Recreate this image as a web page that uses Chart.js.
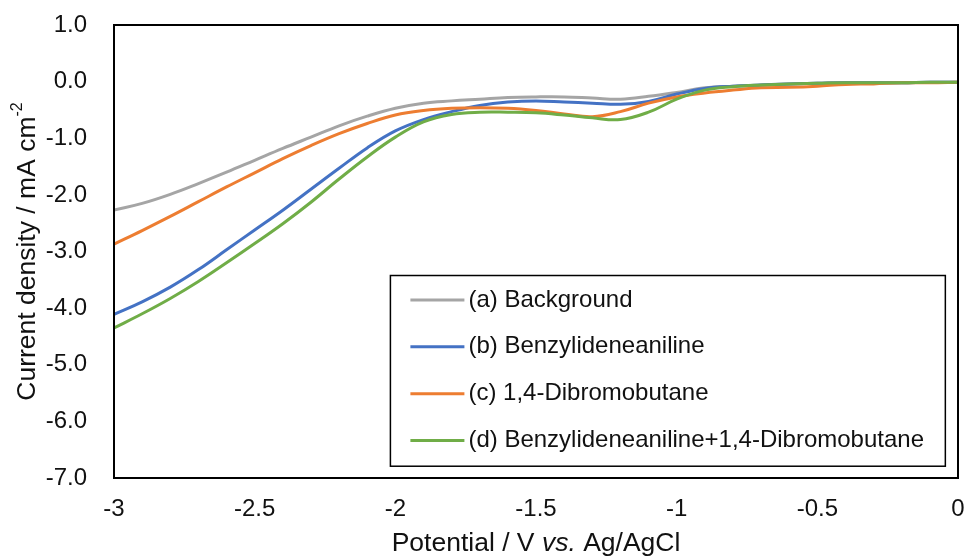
<!DOCTYPE html>
<html>
<head>
<meta charset="utf-8">
<script src="https://cdn.jsdelivr.net/npm/chart.js@4.4.1/dist/chart.umd.min.js"></script>
<style>
  html, body { margin: 0; padding: 0; background: #fff; }
  #wrap { width: 967px; height: 557px; position: relative; }
</style>
</head>
<body>
<div id="wrap"><canvas id="cv" width="967" height="557"></canvas></div>
<script>
// Linear sweep potentials (V vs. Ag/AgCl)
const potential = [-3.0, -2.9, -2.8, -2.7, -2.6, -2.5, -2.4, -2.3, -2.2, -2.1,
                   -2.0, -1.9, -1.8, -1.7, -1.6, -1.5, -1.4, -1.3, -1.2, -1.1,
                   -1.0, -0.9, -0.8, -0.7, -0.6, -0.5, -0.4, -0.3, -0.2, -0.1, 0.0];

// Current density (mA cm-2) for each electrolyte
const background = [-2.27, -2.15, -1.99, -1.80, -1.60, -1.39, -1.18, -0.98, -0.78, -0.61,
                    -0.47, -0.38, -0.34, -0.31, -0.28, -0.27, -0.27, -0.29, -0.31, -0.26,
                    -0.19, -0.11, -0.08, -0.06, -0.04, -0.03, -0.02, -0.02, -0.02, -0.01, -0.01];
const benzylideneaniline = [-4.11, -3.89, -3.63, -3.32, -2.97, -2.62, -2.27, -1.90, -1.53, -1.17,
                            -0.87, -0.67, -0.53, -0.42, -0.36, -0.34, -0.36, -0.38, -0.40, -0.35,
                            -0.22, -0.12, -0.08, -0.06, -0.04, -0.03, -0.02, -0.02, -0.02, -0.01, -0.01];
const dibromobutane = [-2.87, -2.63, -2.38, -2.12, -1.86, -1.61, -1.36, -1.13, -0.92, -0.74,
                       -0.59, -0.51, -0.47, -0.46, -0.47, -0.51, -0.57, -0.62, -0.53, -0.38,
                       -0.27, -0.20, -0.15, -0.11, -0.10, -0.08, -0.05, -0.04, -0.02, -0.02, -0.01];
const combined = [-4.35, -4.10, -3.83, -3.53, -3.20, -2.86, -2.51, -2.13, -1.72, -1.33,
                  -0.98, -0.71, -0.58, -0.54, -0.54, -0.55, -0.59, -0.64, -0.67, -0.54,
                  -0.31, -0.15, -0.09, -0.06, -0.04, -0.03, -0.02, -0.02, -0.02, -0.01, -0.01];

const seriesLabels = ['(a) Background', '(b) Benzylideneaniline', '(c) 1,4-Dibromobutane',
                      '(d) Benzylideneaniline+1,4-Dibromobutane'];
const seriesValues = [background, benzylideneaniline, dibromobutane, combined];
const seriesColors = ['#A5A5A5', '#4472C4', '#ED7D31', '#70AD47'];

const FONT = '"Liberation Sans", Arial, Helvetica, sans-serif';
const INK = '#111111';

const datasets = seriesValues.map((vals, i) => ({
  label: seriesLabels[i],
  data: potential.map((p, k) => ({ x: p, y: vals[k] })),
  borderColor: seriesColors[i],
  backgroundColor: seriesColors[i],
  borderWidth: 3,
  pointRadius: 0,
  showLine: true,
  tension: 0.4,
  order: seriesValues.length - 1 - i   // later series drawn on top
}));

// Plot frame, axis titles and the boxed legend inside the plot
const decorations = {
  id: 'decorations',
  afterDatasetsDraw(chart) {
    const ctx = chart.ctx;
    const a = chart.chartArea;
    ctx.save();

    // frame around the plot area
    ctx.strokeStyle = '#000';
    ctx.lineWidth = 2;
    ctx.strokeRect(a.left, a.top, a.right - a.left, a.bottom - a.top);

    // legend box
    const w = a.right - a.left, h = a.bottom - a.top;
    const bx = a.left + w * 0.3275, by = a.top + h * 0.553;
    const bw = w * 0.6575, bh = h * 0.421;
    ctx.fillStyle = '#fff';
    ctx.fillRect(bx, by, bw, bh);
    ctx.lineWidth = 1.5;
    ctx.strokeStyle = '#000';
    ctx.strokeRect(bx, by, bw, bh);
    ctx.font = '24px ' + FONT;
    ctx.textBaseline = 'middle';
    ctx.textAlign = 'left';
    const rowGap = bh / 4.07;
    for (let i = 0; i < seriesLabels.length; i++) {
      const cy = by + rowGap * (0.5 + i) + 1;
      ctx.strokeStyle = seriesColors[i];
      ctx.lineWidth = 3;
      ctx.beginPath();
      ctx.moveTo(bx + 20, cy);
      ctx.lineTo(bx + 74, cy);
      ctx.stroke();
      ctx.fillStyle = INK;
      ctx.fillText(seriesLabels[i], bx + 78, cy);
    }

    // x axis title with italic "vs."
    const parts = [
      { t: 'Potential / V ', f: '26.5px ' + FONT },
      { t: 'vs.', f: 'italic 26.5px ' + FONT },
      { t: ' Ag/AgCl', f: '26.5px ' + FONT }
    ];
    let total = 0;
    parts.forEach(p => { ctx.font = p.f; p.w = ctx.measureText(p.t).width; total += p.w; });
    let x = (a.left + a.right) / 2 - total / 2;
    const ty = chart.height - 13;
    ctx.fillStyle = INK;
    ctx.textBaseline = 'middle';
    parts.forEach(p => { ctx.font = p.f; ctx.fillText(p.t, x, ty); x += p.w; });

    // y axis title with superscript
    const main = 'Current density / mA cm';
    const sup = '-2';
    ctx.font = '26.5px ' + FONT;
    const mw = ctx.measureText(main).width;
    ctx.font = '16px ' + FONT;
    const sw = ctx.measureText(sup).width;
    ctx.translate(28, (a.top + a.bottom) / 2);
    ctx.rotate(-Math.PI / 2);
    const sx = -(mw + sw) / 2;
    ctx.font = '26.5px ' + FONT;
    ctx.fillText(main, sx, 0);
    ctx.font = '16px ' + FONT;
    ctx.fillText(sup, sx + mw, -10);

    ctx.restore();
  }
};

// drop the automatic label overhang so the plot area follows layout.padding
function noOverhang(s) {
  s.paddingLeft = 0; s.paddingRight = 0; s.paddingTop = 0; s.paddingBottom = 0;
}

new Chart(document.getElementById('cv'), {
  type: 'scatter',
  data: { datasets },
  options: {
    responsive: false,
    animation: false,
    devicePixelRatio: 1,
    layout: { padding: { left: 0, top: 25, right: 9, bottom: 0 } },
    plugins: { legend: { display: false }, tooltip: { enabled: false } },
    scales: {
      x: {
        type: 'linear',
        min: -3, max: 0,
        grid: { display: false, drawTicks: false },
        border: { display: false },
        ticks: {
          stepSize: 0.5,
          padding: 17,
          color: INK,
          font: { family: FONT, size: 24 },
          maxRotation: 0,
          callback: v => (Math.abs(v) < 1e-9 ? '0' : String(Math.round(v * 10) / 10))
        },
        afterFit(s) { s.height = 79; noOverhang(s); }
      },
      y: {
        type: 'linear',
        min: -7, max: 1,
        grid: { display: false, drawTicks: false },
        border: { display: false },
        ticks: {
          stepSize: 1,
          padding: 27,
          color: INK,
          font: { family: FONT, size: 24 },
          callback: v => (Math.abs(v) < 1e-9 ? 0 : v).toFixed(1)
        },
        afterFit(s) { s.width = 114; noOverhang(s); }
      }
    }
  },
  plugins: [decorations]
});
</script>
</body>
</html>
